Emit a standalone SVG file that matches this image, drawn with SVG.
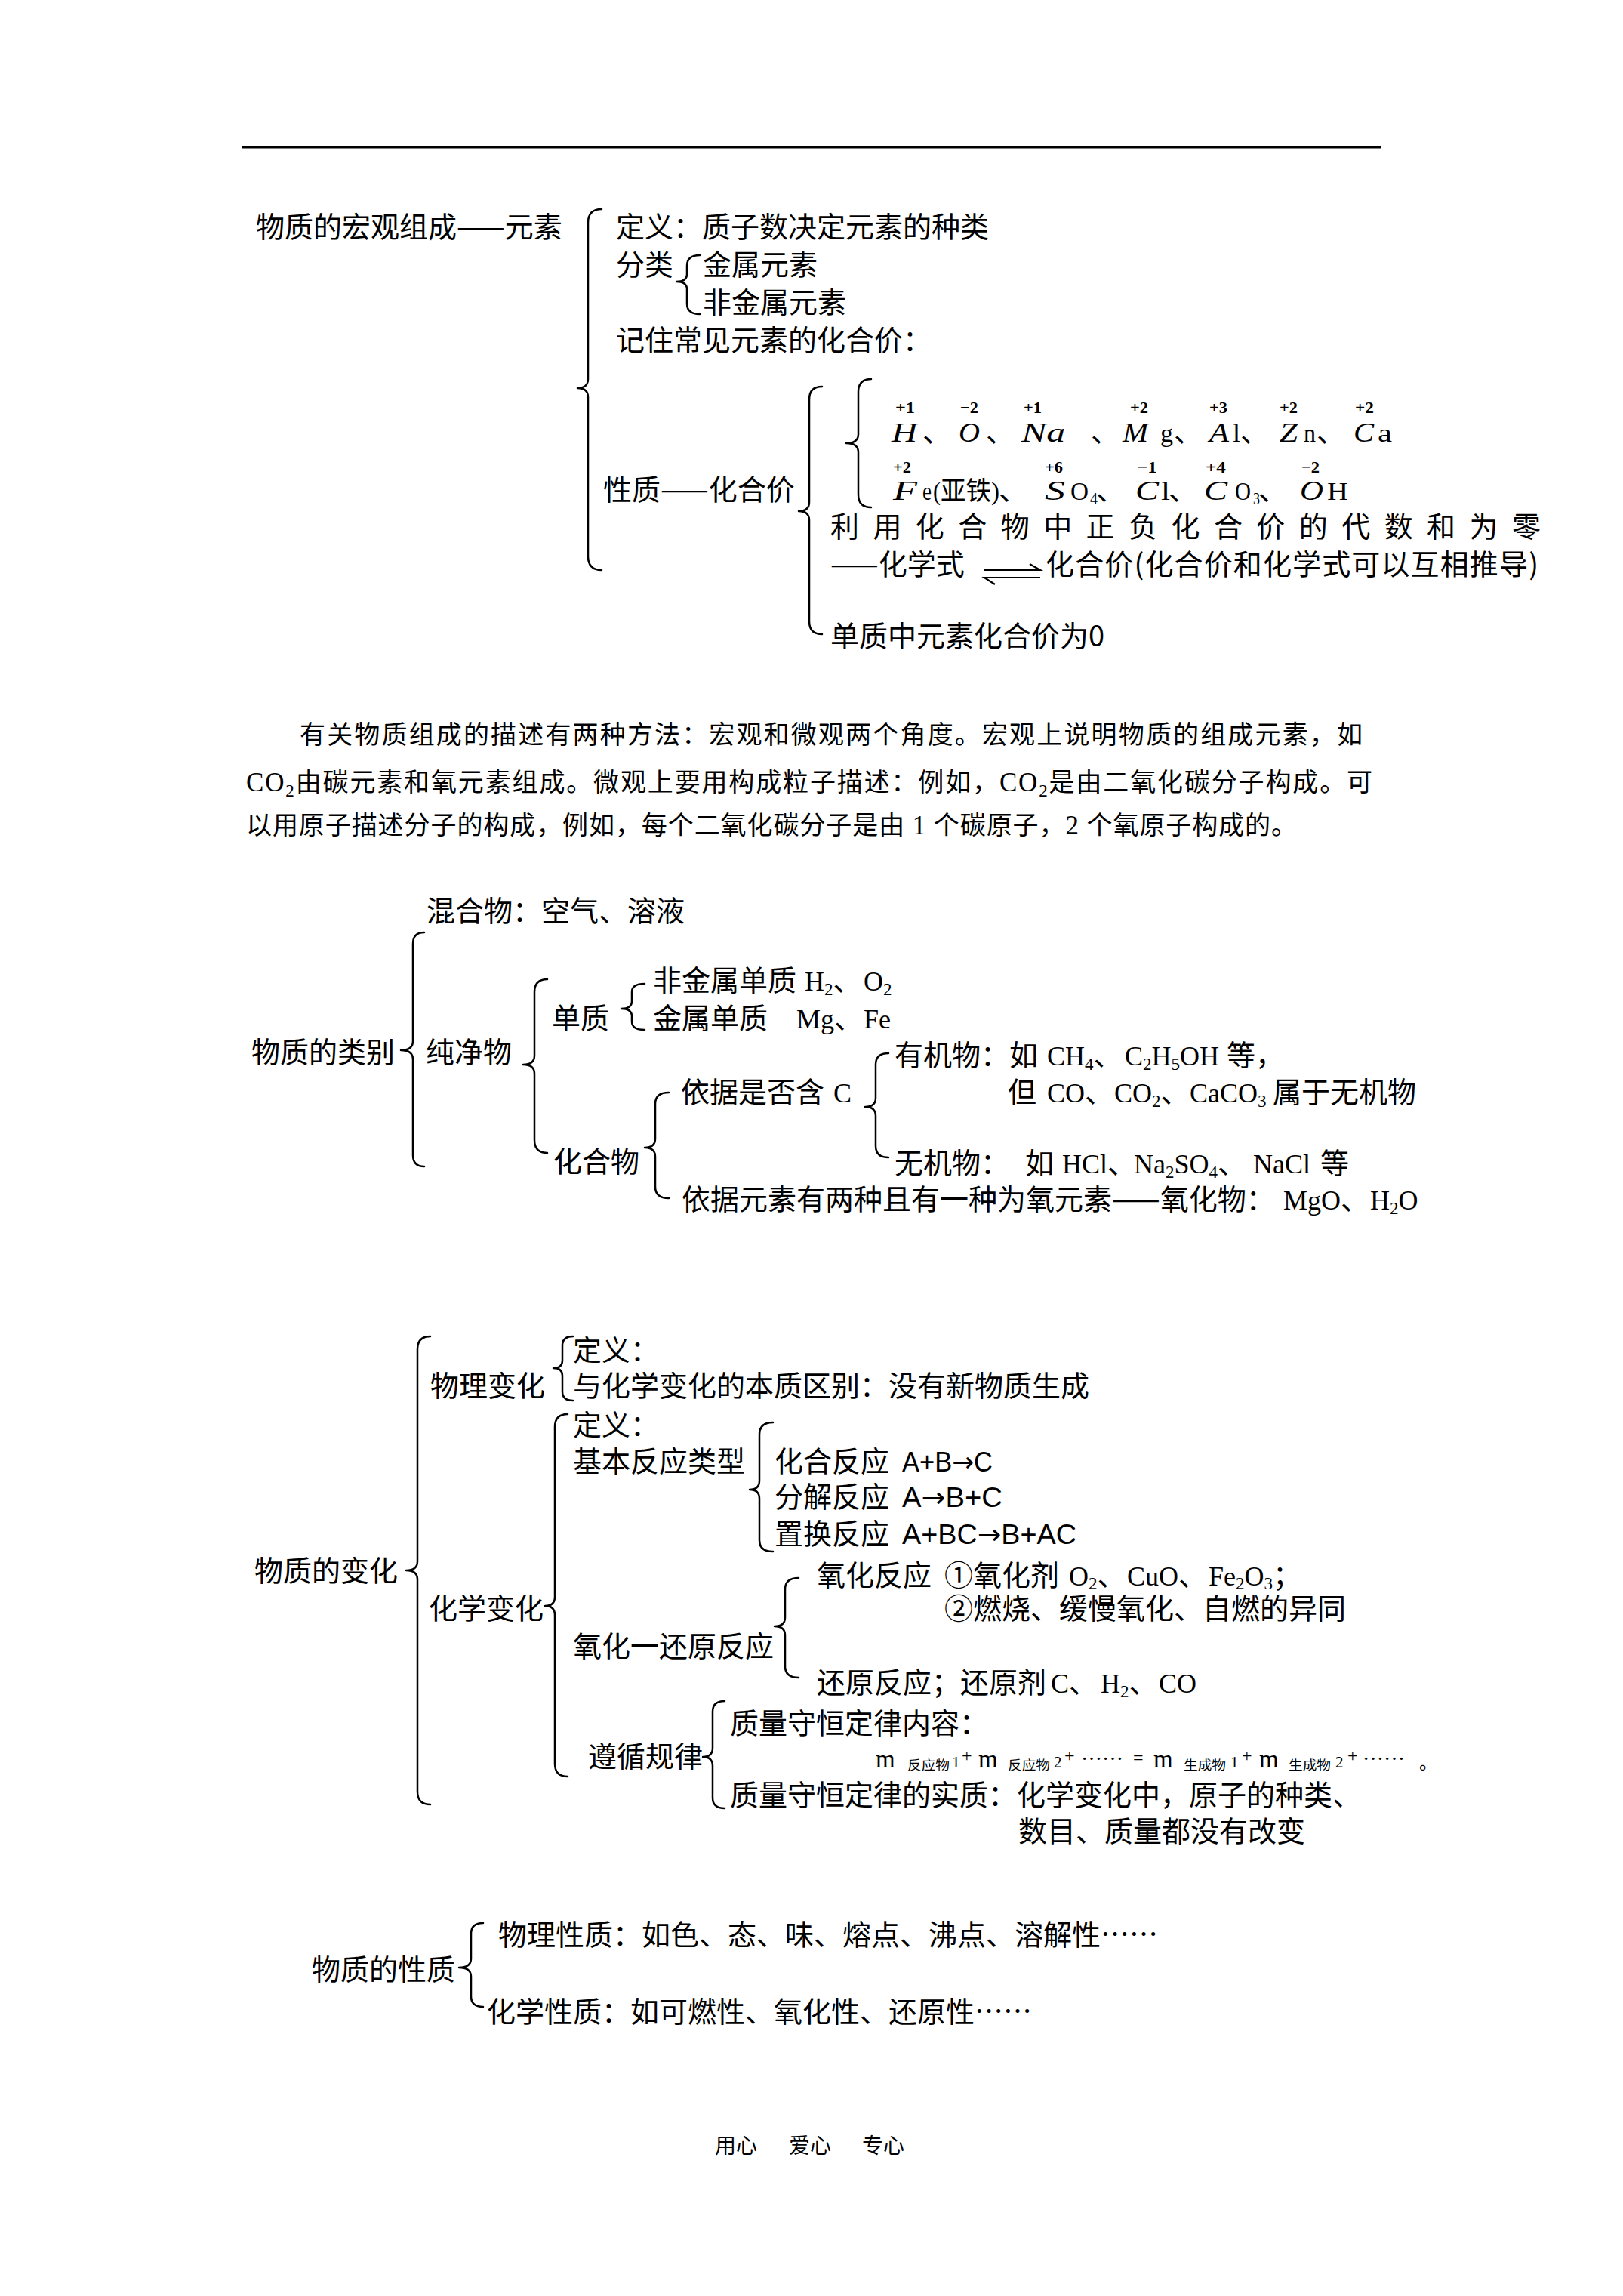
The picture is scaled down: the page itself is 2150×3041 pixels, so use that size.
<svg xmlns="http://www.w3.org/2000/svg" width="2150" height="3041" viewBox="0 0 2150 3041">
<style>
text{fill:#000}
.c{font-family:"Noto Sans CJK SC","Noto Sans CJK JP",sans-serif;font-size:38px}
.p{font-family:"Noto Sans CJK SC","Noto Sans CJK JP",serif;font-size:34px}
.l{font-family:"Liberation Serif",serif;font-size:36px}
.pl{font-family:"Liberation Serif",serif;font-size:35px}
.li{font-family:"Liberation Serif",serif;font-style:italic;font-size:35px}
.lu{font-family:"Liberation Serif",serif;font-size:34px}
.sup{font-family:"Liberation Serif",serif;font-size:22px;font-weight:bold}
.sub{font-size:23px}
.fm{font-family:"Liberation Sans",sans-serif;font-size:36px}
.ar{font-family:"DejaVu Sans",sans-serif}
.tiny{font-family:"Noto Sans CJK SC",sans-serif;font-size:17px}
.ft{font-family:"Noto Sans CJK SC",serif;font-size:28px}
.br{fill:none;stroke:#000;stroke-width:2.5;stroke-linecap:round;stroke-linejoin:round}
.ln{fill:none;stroke:#000;stroke-width:2.2}
</style>
<rect width="2150" height="3041" fill="#fff"/>
<line x1="320" y1="195" x2="1829" y2="195" stroke="#000" stroke-width="3"/>

<g id="connectors">
<path class="br" d="M797,277 Q779,277 779,295 L779,502 Q779,514 765,514 Q779,514 779,526 L779,737 Q779,755 797,755"/>
<path class="br" d="M927,338 Q910,338 910,352 L910,363 Q910,373 896,373 Q910,373 910,383 L910,402 Q910,416 927,416"/>
<path class="br" d="M1089,512 Q1072,512 1072,529 L1072,665 Q1072,677 1058,677 Q1072,677 1072,689 L1072,823 Q1072,840 1089,840"/>
<path class="br" d="M1154,502 Q1137,502 1137,519 L1137,575 Q1137,587 1121,587 Q1137,587 1137,599 L1137,655 Q1137,672 1154,672"/>
<path class="br" d="M562,1235 Q547,1235 547,1250 L547,1379 Q547,1391 531,1391 Q547,1391 547,1403 L547,1530 Q547,1545 562,1545"/>
<path class="br" d="M725,1297 Q708,1297 708,1314 L708,1398 Q708,1410 693,1410 Q708,1410 708,1422 L708,1510 Q708,1527 725,1527"/>
<path class="br" d="M854,1303 Q837,1303 837,1314 L837,1326 Q837,1336 823,1336 Q837,1336 837,1346 L837,1353 Q837,1364 854,1364"/>
<path class="br" d="M886,1447 Q868,1447 868,1462 L868,1508 Q868,1520 854,1520 Q868,1520 868,1532 L868,1572 Q868,1587 886,1587"/>
<path class="br" d="M1177,1395 Q1160,1395 1160,1410 L1160,1454 Q1160,1466 1146,1466 Q1160,1466 1160,1478 L1160,1518 Q1160,1533 1177,1533"/>
<path class="br" d="M570,1770 Q553,1770 553,1787 L553,2068 Q553,2080 538,2080 Q553,2080 553,2092 L553,2373 Q553,2390 570,2390"/>
<path class="br" d="M759,1770 Q745,1770 745,1782 L745,1802 Q745,1812 733,1812 Q745,1812 745,1822 L745,1843 Q745,1855 759,1855"/>
<path class="br" d="M752,1873 Q735,1873 735,1890 L735,2115 Q735,2127 722,2127 Q735,2127 735,2139 L735,2336 Q735,2353 752,2353"/>
<path class="br" d="M1024,1884 Q1006,1884 1006,1900 L1006,1961 Q1006,1973 993,1973 Q1006,1973 1006,1985 L1006,2040 Q1006,2055 1024,2055"/>
<path class="br" d="M1058,2090 Q1040,2090 1040,2105 L1040,2142 Q1040,2154 1026,2154 Q1040,2154 1040,2166 L1040,2207 Q1040,2222 1058,2222"/>
<path class="br" d="M960,2253 Q944,2253 944,2267 L944,2315 Q944,2327 931,2327 Q944,2327 944,2339 L944,2381 Q944,2395 960,2395"/>
<path class="br" d="M640,2547 Q624,2547 624,2561 L624,2594 Q624,2606 608,2606 Q624,2606 624,2618 L624,2644 Q624,2658 640,2658"/>
<path class="ln" d="M1304,755 L1378,755 L1364,747"/>
<path class="ln" d="M1378,765 L1304,765 L1318,774"/>
</g>

<g id="element">
<text class="c" x="339" y="314">物质的宏观组成——元素</text>
</g>
<g id="definition"><text class="c" x="816" y="314">定义：质子数决定元素的种类</text></g>
<g id="classify">
<text class="c" x="816" y="364">分类</text>
<text class="c" x="931" y="364">金属元素</text>
<text class="c" x="931" y="414">非金属元素</text>
</g>
<g id="remember"><text class="c" x="816" y="464">记住常见元素的化合价：</text></g>
<g id="property"><text class="c" x="799" y="662">性质——化合价</text></g>

<g id="valences">
<text class="sup" x="1186" y="547" textLength="26" lengthAdjust="spacingAndGlyphs">+1</text><text class="li" x="1181" y="585" textLength="34" lengthAdjust="spacingAndGlyphs">H</text><text class="c" x="1222" y="585">、</text>
<text class="sup" x="1272" y="547" textLength="24" lengthAdjust="spacingAndGlyphs">−2</text><text class="li" x="1270" y="585" textLength="28" lengthAdjust="spacingAndGlyphs">O</text><text class="c" x="1306" y="585">、</text>
<text class="sup" x="1356" y="547" textLength="24" lengthAdjust="spacingAndGlyphs">+1</text><text class="li" x="1353" y="585" textLength="58" lengthAdjust="spacingAndGlyphs">Na</text><text class="c" x="1445" y="585">、</text>
<text class="sup" x="1497" y="547" textLength="24" lengthAdjust="spacingAndGlyphs">+2</text><text class="li" x="1487" y="585" textLength="34" lengthAdjust="spacingAndGlyphs">M</text><text class="lu" x="1537" y="585" textLength="17" lengthAdjust="spacingAndGlyphs">g</text><text class="c" x="1555" y="585">、</text>
<text class="sup" x="1602" y="547" textLength="24" lengthAdjust="spacingAndGlyphs">+3</text><text class="li" x="1602" y="585" textLength="26" lengthAdjust="spacingAndGlyphs">A</text><text class="lu" x="1633" y="585" textLength="10" lengthAdjust="spacingAndGlyphs">l</text><text class="c" x="1643" y="585">、</text>
<text class="sup" x="1695" y="547" textLength="24" lengthAdjust="spacingAndGlyphs">+2</text><text class="li" x="1695" y="585" textLength="24" lengthAdjust="spacingAndGlyphs">Z</text><text class="lu" x="1727" y="585" textLength="16" lengthAdjust="spacingAndGlyphs">n</text><text class="c" x="1744" y="585">、</text>
<text class="sup" x="1795" y="547" textLength="25" lengthAdjust="spacingAndGlyphs">+2</text><text class="li" x="1793" y="585" textLength="27" lengthAdjust="spacingAndGlyphs">C</text><text class="lu" x="1825" y="585" textLength="19" lengthAdjust="spacingAndGlyphs">a</text>

<text class="sup" x="1183" y="626" textLength="24" lengthAdjust="spacingAndGlyphs">+2</text><text class="li" x="1183" y="662" textLength="32" lengthAdjust="spacingAndGlyphs">F</text><text class="lu" x="1222" y="662" textLength="12" lengthAdjust="spacingAndGlyphs">e</text><text class="lu" x="1236" y="662" textLength="10" lengthAdjust="spacingAndGlyphs">(</text><text class="c" x="1246" y="662" style="font-size:34px" textLength="67" lengthAdjust="spacingAndGlyphs">亚铁</text><text class="lu" x="1313" y="662" textLength="11" lengthAdjust="spacingAndGlyphs">)</text><text class="c" x="1323" y="662">、</text>
<text class="sup" x="1384" y="626" textLength="24" lengthAdjust="spacingAndGlyphs">+6</text><text class="li" x="1384" y="662" textLength="27" lengthAdjust="spacingAndGlyphs">S</text><text class="lu" x="1418" y="662" textLength="24" lengthAdjust="spacingAndGlyphs">O</text><text class="lu sub" x="1444" y="668" textLength="10" lengthAdjust="spacingAndGlyphs">4</text><text class="c" x="1452" y="662">、</text>
<text class="sup" x="1506" y="626" textLength="27" lengthAdjust="spacingAndGlyphs">−1</text><text class="li" x="1504" y="662" textLength="31" lengthAdjust="spacingAndGlyphs">C</text><text class="lu" x="1538" y="662" textLength="12" lengthAdjust="spacingAndGlyphs">l</text><text class="c" x="1548" y="662">、</text>
<text class="sup" x="1597" y="626" textLength="27" lengthAdjust="spacingAndGlyphs">+4</text><text class="li" x="1595" y="662" textLength="31" lengthAdjust="spacingAndGlyphs">C</text><text class="lu" x="1636" y="662" textLength="21" lengthAdjust="spacingAndGlyphs">O</text><text class="lu sub" x="1660" y="668" textLength="9" lengthAdjust="spacingAndGlyphs">3</text><text class="c" x="1667" y="662">、</text>
<text class="sup" x="1724" y="626" textLength="24" lengthAdjust="spacingAndGlyphs">−2</text><text class="li" x="1722" y="662" textLength="31" lengthAdjust="spacingAndGlyphs">O</text><text class="lu" x="1758" y="662" textLength="28" lengthAdjust="spacingAndGlyphs">H</text>
</g>

<g id="rule-sum"><text class="c" x="1100" y="711" textLength="941">利用化合物中正负化合价的代数和为零</text></g>
<g id="formula-valence">
<text class="c" x="1100" y="761">——化学式</text>
<text class="c" x="1385" y="761" textLength="653">化合价(化合价和化学式可以互相推导)</text>
</g>
<g id="elemental"><text class="c" x="1100" y="856">单质中元素化合价为0</text></g>

<g id="paragraph">
<text class="p" x="397" y="985" textLength="1408">有关物质组成的描述有两种方法：宏观和微观两个角度。宏观上说明物质的组成元素，如</text>
<text class="p" x="326" y="1048" textLength="1492"><tspan class="pl">CO</tspan><tspan class="pl sub" dy="7">2</tspan><tspan dy="-7">由碳元素和氧元素组成。微观上要用构成粒子描述：例如，</tspan><tspan class="pl">CO</tspan><tspan class="pl sub" dy="7">2</tspan><tspan dy="-7">是由二氧化碳分子构成。可</tspan></text>
<text class="p" x="326" y="1105" textLength="1392">以用原子描述分子的构成，例如，每个二氧化碳分子是由<tspan class="pl"> 1 </tspan>个碳原子，<tspan class="pl">2 </tspan>个氧原子构成的。</text>
</g>

<g id="categories"><text class="c" x="333" y="1407">物质的类别</text></g>
<g id="mixture"><text class="c" x="565" y="1220">混合物：空气、溶液</text></g>
<g id="pure"><text class="c" x="564" y="1407">纯净物</text></g>
<g id="simple">
<text class="c" x="731" y="1362">单质</text>
<text class="c" x="865" y="1312">非金属单质<tspan class="l" x="1066">H</tspan><tspan class="l sub" y="1318">2</tspan><tspan y="1312">、</tspan><tspan class="l" x="1144">O</tspan><tspan class="l sub" y="1318">2</tspan></text>
<text class="c" x="865" y="1362">金属单质<tspan class="l" x="1055">Mg</tspan><tspan>、</tspan><tspan class="l" x="1144">Fe</tspan></text>
</g>
<g id="compound">
<text class="c" x="733" y="1552">化合物</text>
<text class="c" x="902" y="1460">依据是否含<tspan class="l" x="1104">C</tspan></text>
<text class="c" x="1185" y="1411">有机物：如<tspan class="l" x="1387">CH</tspan><tspan class="l sub" y="1417">4</tspan><tspan y="1411">、</tspan><tspan class="l" x="1490">C</tspan><tspan class="l sub" y="1417">2</tspan><tspan class="l" y="1411">H</tspan><tspan class="l sub" y="1417">5</tspan><tspan class="l" y="1411">OH</tspan><tspan x="1625">等，</tspan></text>
<text class="c" x="1335" y="1460">但<tspan class="l" x="1387">CO</tspan><tspan>、</tspan><tspan class="l" x="1476">CO</tspan><tspan class="l sub" y="1466">2</tspan><tspan y="1460">、</tspan><tspan class="l" x="1576">CaCO</tspan><tspan class="l sub" y="1466">3</tspan><tspan x="1686" y="1460">属于无机物</tspan></text>
<text class="c" x="1185" y="1554">无机物：<tspan x="1358">如</tspan><tspan class="l" x="1407">HCl</tspan><tspan>、</tspan><tspan class="l" x="1502">Na</tspan><tspan class="l sub" y="1560">2</tspan><tspan class="l" y="1554">SO</tspan><tspan class="l sub" y="1560">4</tspan><tspan y="1554">、</tspan><tspan class="l" x="1660">NaCl</tspan><tspan x="1749">等</tspan></text>
<text class="c" x="903" y="1602">依据元素有两种且有一种为氧元素——氧化物：<tspan class="l" x="1700">MgO</tspan><tspan>、</tspan><tspan class="l" x="1815">H</tspan><tspan class="l sub" y="1608">2</tspan><tspan class="l" y="1602">O</tspan></text>
</g>

<g id="change"><text class="c" x="337" y="2094">物质的变化</text></g>
<g id="physical-change">
<text class="c" x="570" y="1849">物理变化</text>
<text class="c" x="759" y="1802">定义：</text>
<text class="c" x="759" y="1849">与化学变化的本质区别：没有新物质生成</text>
</g>
<g id="chemical-change">
<text class="c" x="568" y="2144">化学变化</text>
<text class="c" x="759" y="1901">定义：</text>
</g>
<g id="basic-types">
<text class="c" x="759" y="1949">基本反应类型</text>
<text class="c" x="1026" y="1949">化合反应</text><text class="fm" x="1195" y="1949" textLength="120" lengthAdjust="spacingAndGlyphs">A+B<tspan class="ar">→</tspan>C</text>
<text class="c" x="1026" y="1996">分解反应</text><text class="fm" x="1195" y="1996" textLength="133" lengthAdjust="spacingAndGlyphs">A<tspan class="ar">→</tspan>B+C</text>
<text class="c" x="1026" y="2045">置换反应</text><text class="fm" x="1195" y="2045" textLength="231" lengthAdjust="spacingAndGlyphs">A+BC<tspan class="ar">→</tspan>B+AC</text>
</g>
<g id="redox">
<text class="c" x="759" y="2194">氧化一还原反应</text>
<text class="c" x="1082" y="2100">氧化反应<tspan x="1251">①氧化剂</tspan><tspan class="l" x="1416">O</tspan><tspan class="l sub" y="2105">2</tspan><tspan y="2100">、</tspan><tspan class="l" x="1493">CuO</tspan><tspan>、</tspan><tspan class="l" x="1601">Fe</tspan><tspan class="l sub" y="2105">2</tspan><tspan class="l" y="2100">O</tspan><tspan class="l sub" y="2105">3</tspan><tspan y="2100">；</tspan></text>
<text class="c" x="1251" y="2144">②燃烧、缓慢氧化、自燃的异同</text>
<text class="c" x="1082" y="2242">还原反应；还原剂<tspan class="l" x="1392">C</tspan><tspan>、</tspan><tspan class="l" x="1458">H</tspan><tspan class="l sub" y="2248">2</tspan><tspan y="2242">、</tspan><tspan class="l" x="1535">CO</tspan></text>
</g>
<g id="law">
<text class="c" x="779" y="2340">遵循规律</text>
<text class="c" x="967" y="2296">质量守恒定律内容：</text>
<g id="mass-equation">
<text class="l" x="1160" y="2341" style="font-size:33px">m</text><text class="tiny" x="1202" y="2344" textLength="56" lengthAdjust="spacingAndGlyphs">反应物</text><text class="l" x="1261" y="2341" style="font-size:21px">1</text><text class="l" x="1274" y="2333" style="font-size:24px">+</text>
<text class="l" x="1296" y="2341" style="font-size:33px">m</text><text class="tiny" x="1335" y="2344" textLength="56" lengthAdjust="spacingAndGlyphs">反应物</text><text class="l" x="1396" y="2341" style="font-size:21px">2</text><text class="l" x="1410" y="2333" style="font-size:24px">+</text>
<text class="l" x="1432" y="2331" style="font-size:28px">……</text><text class="l" x="1501" y="2336" style="font-size:24px">=</text>
<text class="l" x="1528" y="2341" style="font-size:33px">m</text><text class="tiny" x="1568" y="2344" textLength="56" lengthAdjust="spacingAndGlyphs">生成物</text><text class="l" x="1630" y="2341" style="font-size:21px">1</text><text class="l" x="1645" y="2333" style="font-size:24px">+</text>
<text class="l" x="1668" y="2341" style="font-size:33px">m</text><text class="tiny" x="1707" y="2344" textLength="56" lengthAdjust="spacingAndGlyphs">生成物</text><text class="l" x="1769" y="2341" style="font-size:21px">2</text><text class="l" x="1785" y="2333" style="font-size:24px">+</text>
<text class="l" x="1805" y="2331" style="font-size:28px">……</text><text class="c" x="1880" y="2343" style="font-size:24px">。</text>
</g>
<text class="c" x="967" y="2391">质量守恒定律的实质：化学变化中，原子的种类、</text>
<text class="c" x="1349" y="2439">数目、质量都没有改变</text>
</g>

<g id="properties"><text class="c" x="413" y="2622">物质的性质</text></g>
<g id="physical-property"><text class="c" x="660" y="2576">物理性质：如色、态、味、熔点、沸点、溶解性……</text></g>
<g id="chemical-property"><text class="c" x="645" y="2678">化学性质：如可燃性、氧化性、还原性……</text></g>

<g id="footer">
<text class="ft" x="947" y="2852">用心</text>
<text class="ft" x="1045" y="2852">爱心</text>
<text class="ft" x="1142" y="2852">专心</text>
</g>
</svg>
